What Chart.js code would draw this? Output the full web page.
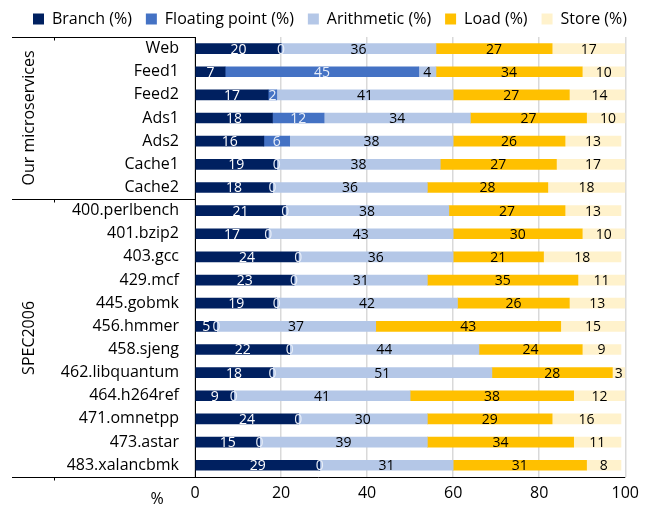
<!DOCTYPE html>
<html><head><meta charset="utf-8">
<script src="https://cdn.jsdelivr.net/npm/chart.js@4/dist/chart.umd.min.js"></script>
<style>html,body{margin:0;padding:0;background:#fff}#wrap{width:646px;height:506px}</style>
</head><body><div id="wrap"><canvas id="c" width="646" height="506"></canvas></div>
<script>
const categories = ["Web","Feed1","Feed2","Ads1","Ads2","Cache1","Cache2",
  "400.perlbench","401.bzip2","403.gcc","429.mcf","445.gobmk","456.hmmer","458.sjeng",
  "462.libquantum","464.h264ref","471.omnetpp","473.astar","483.xalancbmk"];
const branch     = [20, 7,17,18,16,19,18, 21,17,24,23,19, 5,22,18, 9,24,15,29];
const floating   = [ 0,45, 2,12, 6, 0, 0,  0, 0, 0, 0, 0, 0, 0, 0, 0, 0, 0, 0];
const arithmetic = [36, 4,41,34,38,38,36, 38,43,36,31,42,37,44,51,41,30,39,31];
const load       = [27,34,27,27,26,27,28, 27,30,21,35,26,43,24,28,38,29,34,31];
const store      = [17,10,14,10,13,17,18, 13,10,18,11,13,15, 9, 3,12,16,11, 8];
const seriesNames = ["Branch (%)","Floating point (%)","Arithmetic (%)","Load (%)","Store (%)"];
const groups = [{name:"Our microservices", from:0, to:6},{name:"SPEC2006", from:7, to:18}];
const xTicks = [0,20,40,60,80,100];

const FONT = "'Open Sans'";
const colors = ["#002060","#4472C4","#B4C7E7","#FFC000","#FFF2CC"];
const labelColors = ["#ffffff","#e8eef8","#000000","#000000","#000000"];
const values = [branch, floating, arithmetic, load, store];

const dataLabels = {
  id:"dataLabels",
  afterDatasetsDraw(chart){
    const ctx = chart.ctx;
    ctx.save();
    ctx.font = "14px " + FONT;
    ctx.textAlign = "center";
    ctx.textBaseline = "middle";
    chart.data.datasets.forEach((ds, di) => {
      const meta = chart.getDatasetMeta(di);
      meta.data.forEach((el, i) => {
        const v = ds.data[i];
        const cx = (el.x + el.base) / 2;
        ctx.fillStyle = labelColors[di];
        ctx.fillText(String(v), cx, el.y + 1);
      });
    });
    ctx.restore();
  }
};

const legendShift = {
  id:"legendShift",
  afterLayout(chart){
    if (chart.legend) { chart.legend.left += 16; chart.legend.right += 16; }
  }
};

const decor = {
  id:"decor",
  afterDraw(chart){
    const ctx = chart.ctx, ca = chart.chartArea;
    const step = (ca.bottom - ca.top) / categories.length;
    ctx.save();
    ctx.strokeStyle = "#000"; ctx.lineWidth = 1;
    const lines = [ca.top, ca.top + step * 7, ca.bottom];
    lines.forEach((ly, k) => {
      const yy = Math.round(ly) + 0.5;
      ctx.beginPath();
      ctx.moveTo(12, yy);
      ctx.lineTo(k === 2 ? ca.right : ca.left, yy);
      ctx.stroke();
      ctx.beginPath(); ctx.moveTo(54.5, yy); ctx.lineTo(54.5, yy + 3); ctx.stroke();
    });
    ctx.fillStyle = "#000";
    ctx.font = "16px " + FONT;
    ctx.textAlign = "center"; ctx.textBaseline = "middle";
    groups.forEach(g => {
      const cy = (ca.top + g.from * step + ca.top + (g.to + 1) * step) / 2;
      ctx.save();
      ctx.translate(29, cy);
      ctx.rotate(-Math.PI / 2);
      ctx.fillText(g.name, 0, 0);
      ctx.restore();
    });
    ctx.fillText("%", 157, ca.bottom + 23);
    ctx.restore();
  }
};

new Chart(document.getElementById("c"), {
  type: "bar",
  data: {
    labels: categories,
    datasets: values.map((d, i) => ({
      label: seriesNames[i], data: d, backgroundColor: colors[i],
      barThickness: 10, borderWidth: 0
    }))
  },
  options: {
    indexAxis: "y",
    responsive: false,
    animation: false,
    layout: { padding: { left: 0, right: 18, top: -3, bottom: -4 } },
    plugins: {
      legend: {
        position: "top",
        labels: { font: { family: "Open Sans", size: 16 }, color: "#000", boxWidth: 11, boxHeight: 11, padding: 14 }
      },
      tooltip: { enabled: false }
    },
    scales: {
      x: {
        stacked: true, min: 0, max: 100,
        afterBuildTicks: s => { s.ticks = xTicks.map(v => ({ value: v })); },
        ticks: { font: { family: "Open Sans", size: 16 }, color: "#000", padding: 7 },
        grid: { color: "#d9d9d9", drawTicks: false, lineWidth: 1.5 },
        border: { display: false }
      },
      y: {
        stacked: true,
        afterFit: s => { s.width = 195; },
        ticks: { font: { family: "Open Sans", size: 16 }, color: "#000", padding: 16, autoSkip: false },
        grid: { display: false, drawTicks: false },
        border: { color: "#000", width: 1 }
      }
    }
  },
  plugins: [legendShift, dataLabels, decor]
});
</script>
</body></html>
